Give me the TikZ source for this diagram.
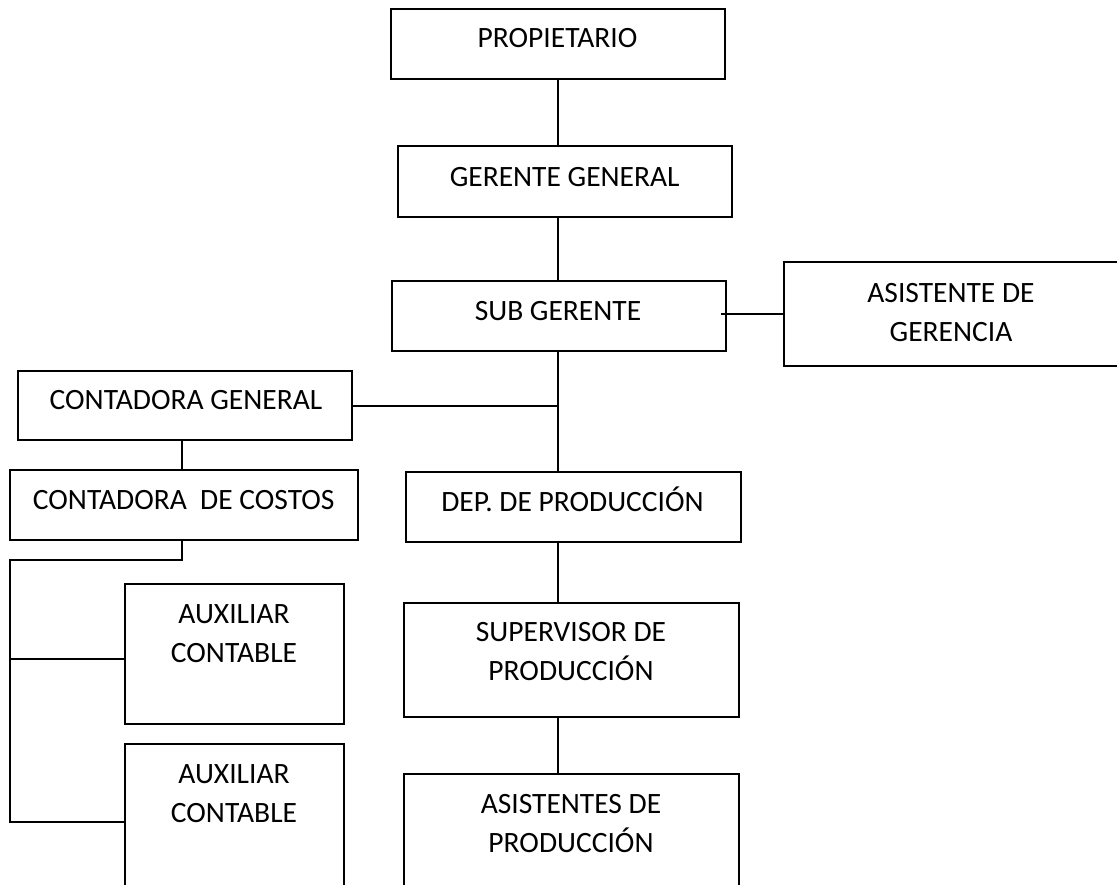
\documentclass[tikz,border=0pt]{standalone}
\usepackage{fontspec}
\setmainfont{Carlito}
\begin{document}
\begin{tikzpicture}[x=1pt,y=-1pt,
  box/.style={draw,line width=1.8pt,rectangle,inner sep=0pt,outer sep=0pt},
  lbl/.style={inner sep=0pt,outer sep=0pt,font=\fontsize{29.5}{39}\selectfont,align=center},
  lbl1/.style={lbl,anchor=base},
  conn/.style={line width=1.8pt}]
\useasboundingbox (0,0) rectangle (1117,884);
\clip (0,0) rectangle (1117,884);
\fill[white] (0,0) rectangle (1117,884);
% boxes
\node[box,minimum width=334pt,minimum height=70pt] (prop) at (558,44) {};
\node[box,minimum width=334pt,minimum height=71pt] (ger) at (565,181.5) {};
\node[box,minimum width=334pt,minimum height=70pt] (sub) at (559,316) {};
\node[box,minimum width=346pt,minimum height=104pt] (asis) at (957,314) {};
\node[box,minimum width=334pt,minimum height=69pt] (cg) at (185,405.5) {};
\node[box,minimum width=348pt,minimum height=70pt] (cc) at (184,505) {};
\node[box,minimum width=335pt,minimum height=70pt] (dep) at (573.5,507) {};
\node[box,minimum width=335pt,minimum height=114pt] (sup) at (571.5,660) {};
\node[box,minimum width=335pt,minimum height=150pt] (asp) at (571.5,849) {};
\node[box,minimum width=219pt,minimum height=140pt] (aux1) at (234.5,654) {};
\node[box,minimum width=219pt,minimum height=170pt] (aux2) at (234.5,829) {};
% texts
\node[lbl1] (tprop) at (557.5,47.5) {PROPIETARIO};
\node[lbl1] (tger) at (564.7,186.5) {GERENTE GENERAL};
\node[lbl1] (tsub) at (558,320.5) {SUB GERENTE};
\node[lbl] (tasis) at (951,312.5) {ASISTENTE DE\\GERENCIA};
\node[lbl1] (tcg) at (186,409.5) {CONTADORA GENERAL};
\node[lbl1] (tcc) at (183.7,509.5) {CONTADORA\ \ DE COSTOS};
\node[lbl1] (tdep) at (572.5,511.5) {DEP. DE PRODUCCIÓN};
\node[lbl] (tsup) at (571,652) {SUPERVISOR DE\\PRODUCCIÓN};
\node[lbl] (tasp) at (571,823.5) {ASISTENTES DE\\PRODUCCIÓN};
\node[lbl] (taux1) at (234,634) {AUXILIAR\\CONTABLE};
\node[lbl] (taux2) at (234,793.5) {AUXILIAR\\CONTABLE};
% connectors
\coordinate (mx) at (558,0);
\coordinate (cx) at (182,0);
\coordinate (hy) at (0,406);
\coordinate (jn) at (10,560);
\coordinate (b1) at (10,659);
\coordinate (b2) at (10,822);
\draw[conn] (mx |- prop.south) -- (mx |- ger.north);
\draw[conn] (mx |- ger.south) -- (mx |- sub.north);
\draw[conn] (asis.west) -- ([xshift=-5pt]asis.west -| sub.east);
\draw[conn] (mx |- sub.south) -- (mx |- dep.north);
\draw[conn] (cg.east |- hy) -- (mx |- hy);
\draw[conn] (cx |- cg.south) -- (cx |- cc.north);
\draw[conn] (cx |- cc.south) |- (jn) -- (b2) -- (b2 -| aux2.west);
\draw[conn] (b1) -- (b1 -| aux1.west);
\draw[conn] (mx |- dep.south) -- (mx |- sup.north);
\draw[conn] (mx |- sup.south) -- (mx |- asp.north);
\end{tikzpicture}
\end{document}
